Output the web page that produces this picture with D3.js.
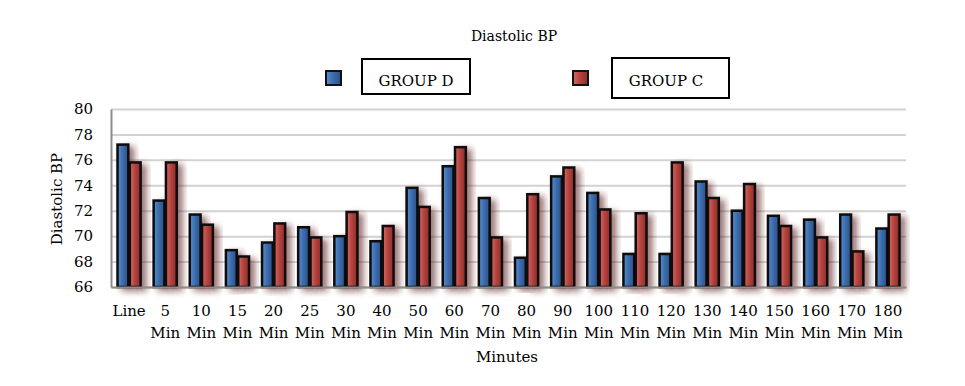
<!DOCTYPE html>
<html>
<head>
<meta charset="utf-8">
<script src="https://cdn.jsdelivr.net/npm/d3@7"></script>
<style>
  body { margin: 0; background: #fff; }
  text { font-family: "DejaVu Serif", serif; fill: #000; }
</style>
</head>
<body>
<div id="chart"></div>
<script>
// Values
const categories = ['Line', '5 Min', '10 Min', '15 Min', '20 Min', '25 Min', '30 Min', '40 Min',
  '50 Min', '60 Min', '70 Min', '80 Min', '90 Min', '100 Min', '110 Min', '120 Min',
  '130 Min', '140 Min', '150 Min', '160 Min', '170 Min', '180 Min'];
const groupD = [77.2, 72.8, 71.7, 68.9, 69.5, 70.7, 70.0, 69.6, 73.8, 75.5, 73.0, 68.3,
  74.7, 73.4, 68.6, 68.6, 74.3, 72.0, 71.6, 71.3, 71.7, 70.6];
const groupC = [75.8, 75.8, 70.9, 68.4, 71.0, 69.9, 71.9, 70.8, 72.3, 77.0, 69.9, 73.3,
  75.4, 72.1, 71.8, 75.8, 73.0, 74.1, 70.8, 69.9, 68.8, 71.7];
const seriesNames = ['GROUP D', 'GROUP C'];
const yTicks = [66, 68, 70, 72, 74, 76, 78, 80];

const W = 965, H = 386;
const margin = { top: 109, right: 59, bottom: 99, left: 111 };
const width = W - margin.left - margin.right,
  height = H - margin.top - margin.bottom;

const svg = d3.select('#chart').append('svg')
  .attr('width', W).attr('height', H);

const defs = svg.append('defs');
const palette = [
  { id: 'gD', light: '#5b8ed0', mid: '#3e6eae', dark: '#2a5088' },
  { id: 'gC', light: '#d46a66', mid: '#b6443f', dark: '#8a2c29' }
];
palette.forEach(p => {
  const g = defs.append('linearGradient').attr('id', p.id)
    .attr('x1', 0).attr('x2', 1).attr('y1', 0).attr('y2', 0);
  g.append('stop').attr('offset', '0%').attr('stop-color', p.light);
  g.append('stop').attr('offset', '45%').attr('stop-color', p.mid);
  g.append('stop').attr('offset', '100%').attr('stop-color', p.dark);
});
const shadow = defs.append('filter').attr('id', 'shadow')
  .attr('x', '-30%').attr('y', '-10%').attr('width', '220%').attr('height', '130%');
shadow.append('feDropShadow').attr('dx', 5).attr('dy', 3).attr('stdDeviation', 3)
  .attr('flood-color', '#5a1f22').attr('flood-opacity', 0.6);

const g = svg.append('g').attr('transform', `translate(${margin.left},${margin.top})`);

const x = d3.scaleBand().domain(categories).range([0, width])
  .paddingInner(0.36).paddingOuter(0.18);
const xSub = d3.scaleBand().domain(seriesNames).range([0, x.bandwidth()]).paddingInner(0.12);
const y = d3.scaleLinear().domain([66, 80]).range([height, 0]);

// Grid lines
g.append('g')
  .call(d3.axisLeft(y).tickValues(yTicks).tickSize(-width).tickFormat(''))
  .call(s => s.select('.domain').remove())
  .call(s => s.selectAll('line').attr('stroke', '#d2d2d2').attr('stroke-width', 2));

// Bars
const series = [groupD, groupC];
series.forEach((vals, si) => {
  g.append('g').selectAll('rect')
    .data(vals)
    .join('rect')
    .attr('x', (d, i) => x(categories[i]) + xSub(seriesNames[si]))
    .attr('y', d => y(d))
    .attr('width', xSub.bandwidth())
    .attr('height', d => y(66) - y(d))
    .attr('fill', `url(#${palette[si].id})`)
    .attr('stroke', '#0a0a0a')
    .attr('stroke-width', 2.5)
    .attr('filter', 'url(#shadow)');
});

// Axes
const yAxis = g.append('g')
  .call(d3.axisLeft(y).tickValues(yTicks).tickSize(0).tickPadding(18).tickFormat(d3.format('d')));
yAxis.select('.domain').attr('stroke', '#8c8c8c').attr('stroke-width', 2);
yAxis.selectAll('text').style('font-size', '15px').style('font-family', '"DejaVu Serif", serif')
  .attr('fill', '#000');

const xAxis = g.append('g').attr('transform', `translate(0,${height})`)
  .call(d3.axisBottom(x).tickSize(0).tickFormat(''));
xAxis.select('.domain').attr('stroke', '#8c8c8c').attr('stroke-width', 2);

// Two-line category labels
const lab = g.append('g').selectAll('text')
  .data(categories)
  .join('text')
  .attr('text-anchor', 'middle')
  .style('font-size', '15px')
  .attr('transform', d => `translate(${x(d) + x.bandwidth() / 2},${height + 29})`);
lab.each(function (d) {
  const parts = d.split(' ');
  const t = d3.select(this);
  parts.forEach((p, i) => {
    t.append('tspan').attr('x', 0).attr('dy', i === 0 ? 0 : 22).text(p);
  });
});

// Titles
svg.append('text').attr('x', 514).attr('y', 41).attr('text-anchor', 'middle')
  .style('font-size', '14px').text('Diastolic BP');
svg.append('text').attr('x', 507).attr('y', 362).attr('text-anchor', 'middle')
  .style('font-size', '15px').text('Minutes');
svg.append('text')
  .attr('transform', 'translate(62,199) rotate(-90)')
  .attr('text-anchor', 'middle')
  .style('font-size', '15px').text('Diastolic BP');

// Legend
const legendItems = [
  { name: seriesNames[0], sx: 326, bx: 362, by: 59, bw: 108, bh: 35, tx: 416 },
  { name: seriesNames[1], sx: 573, bx: 612, by: 58, bw: 117, bh: 40, tx: 666 }
];
const leg = svg.append('g');
legendItems.forEach((it, i) => {
  leg.append('rect').attr('x', it.sx).attr('y', 71).attr('width', 15).attr('height', 14)
    .attr('fill', `url(#${palette[i].id})`).attr('stroke', '#111').attr('stroke-width', 2);
  leg.append('rect').attr('x', it.bx).attr('y', it.by).attr('width', it.bw).attr('height', it.bh)
    .attr('fill', 'none').attr('stroke', '#000').attr('stroke-width', 2);
  leg.append('text').attr('x', it.tx).attr('y', 86).attr('text-anchor', 'middle')
    .style('font-size', '15px').text(it.name);
});
</script>
</body>
</html>
